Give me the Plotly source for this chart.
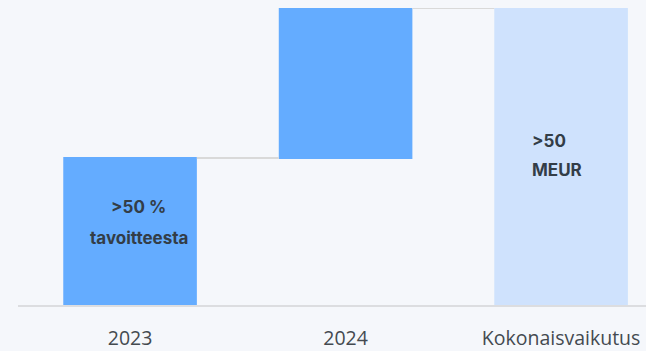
import plotly.graph_objects as go

categories = ["2023", "2024", "Kokonaisvaikutus"]
values = [49.5, 50.5, 100]
measures = ["relative", "relative", "total"]
bar_labels_1 = [">50 %", "tavoitteesta"]
bar_labels_3 = [">50", "MEUR"]

BG = "#f5f7fb"
fig = go.Figure()
fig.add_trace(go.Waterfall(
    x=categories, y=values, measure=measures,
    increasing=dict(marker=dict(color="#64acff", line=dict(width=0))),
    decreasing=dict(marker=dict(color="#64acff", line=dict(width=0))),
    totals=dict(marker=dict(color="#cfe2fd", line=dict(width=0))),
    connector=dict(line=dict(color="#d9d9d9", width=2)),
    width=0.62,
    hoverinfo="skip",
))

text_font = dict(family="Inter", size=17, color="#333d47")
fig.add_annotation(x=0.04, y=33, text="<b>" + bar_labels_1[0] + "</b>",
                   showarrow=False, font=text_font, xanchor="center", yanchor="middle")
fig.add_annotation(x=0.04, y=22.5, text="<b>" + bar_labels_1[1] + "</b>",
                   showarrow=False, font=text_font, xanchor="center", yanchor="middle")
fig.add_annotation(x=1.856, y=55.3, text="<b>" + bar_labels_3[0] + "</b>",
                   showarrow=False, font=text_font, xanchor="left", yanchor="middle")
fig.add_annotation(x=1.856, y=45.5, text="<b>" + bar_labels_3[1] + "</b>",
                   showarrow=False, font=text_font, xanchor="left", yanchor="middle")

fig.update_layout(
    width=646, height=351,
    margin=dict(l=18, r=0, t=8, b=46, autoexpand=False),
    paper_bgcolor=BG, plot_bgcolor=BG,
    showlegend=False,
    xaxis=dict(range=[-0.52, 2.394], showgrid=False, zeroline=False, automargin=False,
               showline=True, linecolor="#dcdde0", linewidth=2,
               ticks="", ticklabelstandoff=15,
               tickfont=dict(family="Open Sans", size=19.5, color="#444a50")),
    yaxis=dict(range=[0, 100], visible=False, showgrid=False, zeroline=False),
)
fig.write_html("out.html")
